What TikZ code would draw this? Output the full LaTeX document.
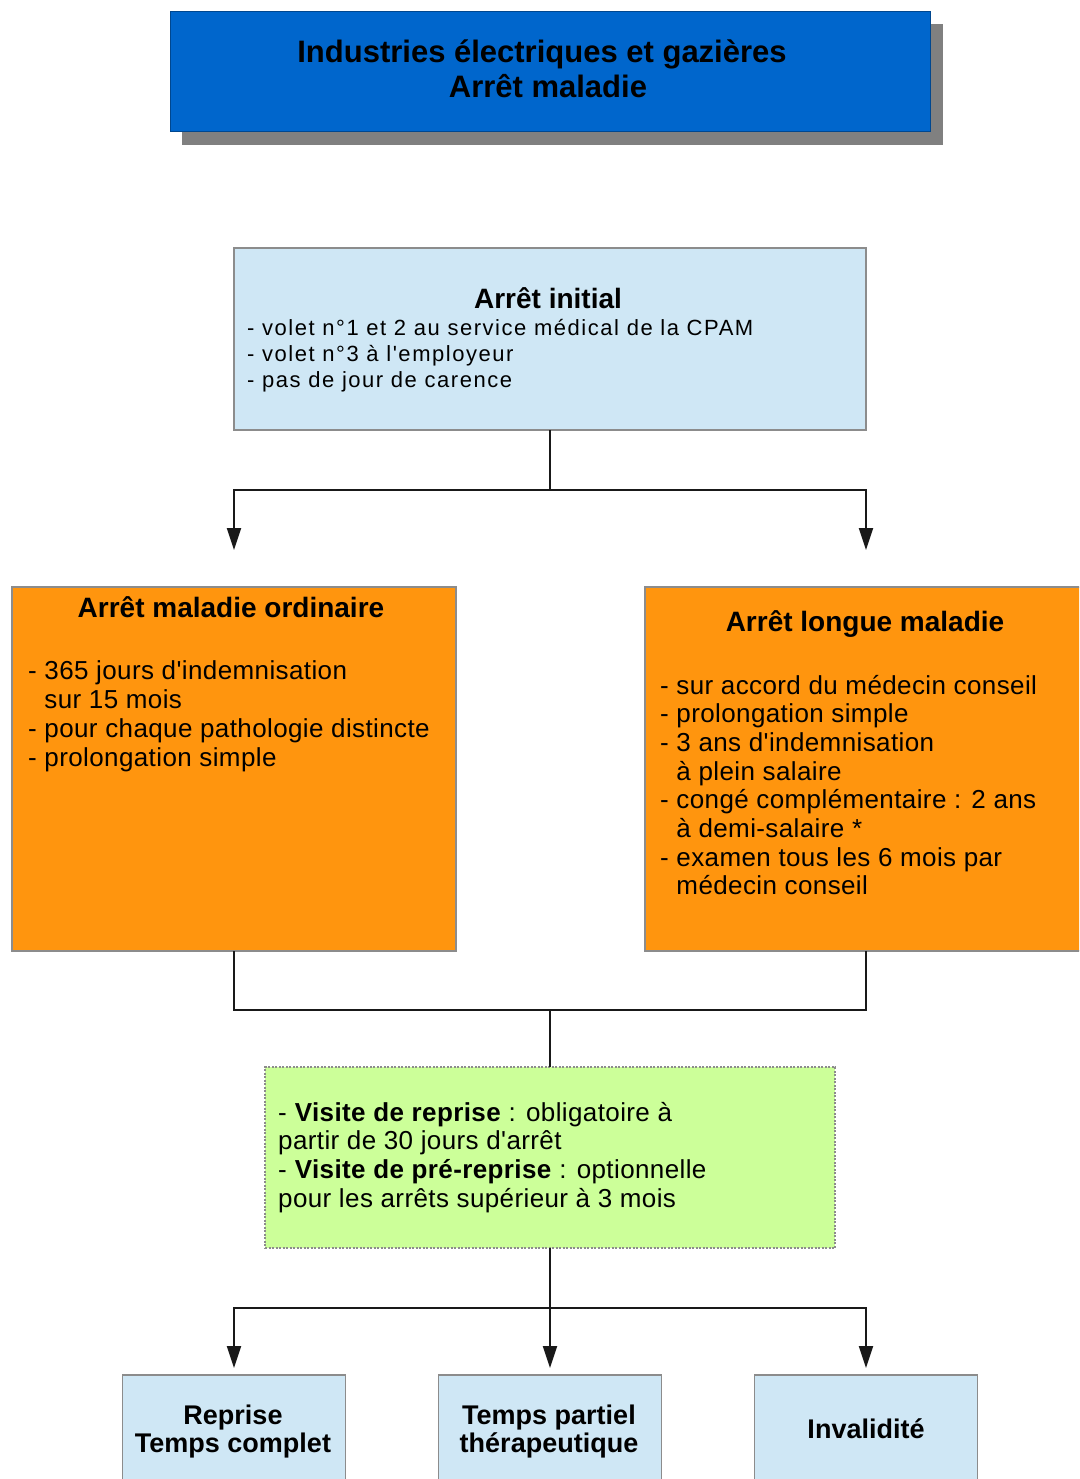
\documentclass[tikz,border=0pt]{standalone}
\usepackage{fontspec}
\setmainfont{Liberation Sans}[Ligatures=TeXOff]
\newfontfamily\widefont{Liberation Sans}[Ligatures=TeXOff, LetterSpace=7]
\newfontfamily\bodyfont{Liberation Sans}[Ligatures=TeXOff, LetterSpace=1.5]
\usetikzlibrary{arrows.meta}

\definecolor{titleblue}{HTML}{0066CC}
\definecolor{shadowgray}{HTML}{808080}
\definecolor{paleblue}{HTML}{CFE7F5}
\definecolor{orangefill}{HTML}{FF950E}
\definecolor{palegreen}{HTML}{CCFF99}
\definecolor{edgegray}{HTML}{8C8C8C}

% one node per text line, baselines a fixed step apart
\newcommand\placelines[6]{%
  \foreach \ln [count=\k] in {#6} {
    \node[#1] (#2-\k) at ({#3},{#4+(\k-1)*#5}) {\ln};
  }}

\begin{document}
\begin{tikzpicture}[x=1pt,y=-1pt,
  panel/.style={draw=edgegray, line width=1.5pt, inner sep=0pt, outer sep=0pt},
  link/.style={draw=black!90, line width=2pt},
  arrowlink/.style={link, -{Triangle[length=22pt,width=14pt]}},
  bigtitle/.style={font=\fontsize{31}{35}\selectfont\bfseries, inner sep=0pt, anchor=base},
  heading/.style={font=\fontsize{28}{32}\selectfont\bfseries, inner sep=0pt, anchor=base},
  smallbody/.style={font=\widefont\fontsize{22}{26}\selectfont, inner sep=0pt, anchor=base west},
  body/.style={font=\bodyfont\fontsize{26}{29}\selectfont, inner sep=0pt, anchor=base west},
  outcome/.style={font=\fontsize{27}{30}\selectfont\bfseries, inner sep=0pt, anchor=base},
]
\useasboundingbox (0,0) rectangle (1079,1479);
\clip (0,0) rectangle (1079,1479);
\fill[white] (0,0) rectangle (1079,1479);

% title banner with its drop shadow
\node[fill=shadowgray, inner sep=0pt, minimum width=761pt, minimum height=121pt] (titleshadow) at (562.5,84.5) {};
\node[panel, draw=titleblue!70!black, line width=1pt, fill=titleblue, minimum width=760pt, minimum height=120pt] (title) at (550,72) {};
\node[bigtitle] (title-1) at (542,63) {Industries électriques et gazières};
\node[bigtitle] (title-2) at (548,98) {Arrêt maladie};

% initial sick leave
\node[panel, fill=paleblue, minimum width=632pt, minimum height=182pt] (init) at (550,339) {};
\node[heading] (init-title) at (548,308) {Arrêt initial};
\placelines{smallbody}{initline}{247}{335}{26}{%
  {- volet n°1 et 2 au service médical de la CPAM},
  {- volet n°3 à l'employeur},
  {- pas de jour de carence}}

% ordinary sick leave
\node[panel, fill=orangefill, minimum width=444pt, minimum height=364pt] (ord) at (234,769) {};
\node[heading] (ord-title) at (231,617) {Arrêt maladie ordinaire};
\placelines{body}{ordline}{28}{679}{29}{%
  {- 365 jours d'indemnisation},
  {\phantom{- }sur 15 mois},
  {- pour chaque pathologie distincte},
  {- prolongation simple}}

% long-term sick leave
\node[panel, fill=orangefill, minimum width=442pt, minimum height=364pt] (long) at (866,769) {};
\node[heading] (long-title) at (865,631) {Arrêt longue maladie};
\placelines{body}{longline}{660}{694}{28.7}{%
  {- sur accord du médecin conseil},
  {- prolongation simple},
  {- 3 ans d'indemnisation},
  {\phantom{- }à plein salaire},
  {- congé complémentaire : 2 ans},
  {\phantom{- }à demi-salaire *},
  {- examen tous les 6 mois par},
  {\phantom{- }médecin conseil}}

% return-to-work medical visits
\node[panel, draw=edgegray, line width=1.2pt, dash pattern=on 2pt off 1.5pt, fill=palegreen, minimum width=570pt, minimum height=181pt] (visit) at (550,1157.5) {};
\placelines{body}{visitline}{278}{1121}{28.7}{%
  {- \textbf{Visite de reprise} : obligatoire à},
  {partir de 30 jours d'arrêt},
  {- \textbf{Visite de pré-reprise} : optionnelle},
  {pour les arrêts supérieur à 3 mois}}

% outcomes
\node[panel, fill=paleblue, minimum width=223pt, minimum height=120pt] (full) at (234,1435) {};
\node[panel, fill=paleblue, minimum width=223pt, minimum height=120pt] (partial) at (550,1435) {};
\node[panel, fill=paleblue, minimum width=223pt, minimum height=120pt] (invalid) at (866,1435) {};
\node[outcome] (full-1) at (233,1424) {Reprise};
\node[outcome] (full-2) at (233,1452) {Temps complet};
\node[outcome] (partial-1) at (549,1424) {Temps partiel};
\node[outcome] (partial-2) at (549,1452) {thérapeutique};
\node[outcome] (invalid-1) at (866,1438) {Invalidité};

% connectors
\coordinate (split1) at (550,490);
\coordinate (ordtip) at (234,550);
\coordinate (longtip) at (866,550);
\draw[link] (init.south) -- (split1);
\draw[arrowlink] (split1) -| (ordtip);
\draw[arrowlink] (split1) -| (longtip);

\coordinate (join) at (550,1010);
\draw[link] (ord.south) |- (join) -| (long.south);
\draw[link] (join) -- (visit.north);

\coordinate (split2) at (550,1308);
\coordinate (fulltip) at (234,1368);
\coordinate (partialtip) at (550,1368);
\coordinate (invalidtip) at (866,1368);
\draw[link] (visit.south) -- (split2);
\draw[arrowlink] (split2) -| (fulltip);
\draw[arrowlink] (split2) -- (partialtip);
\draw[arrowlink] (split2) -| (invalidtip);
\end{tikzpicture}
\end{document}
